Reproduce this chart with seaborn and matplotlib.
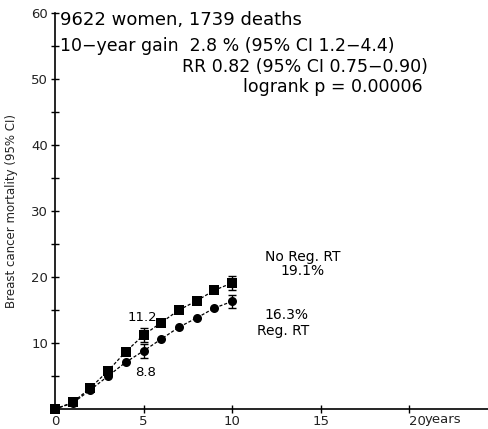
import numpy as np
import pandas as pd
import matplotlib
matplotlib.use("Agg")
import matplotlib.pyplot as plt
import seaborn as sns

years = [0, 1, 2, 3, 4, 5, 6, 7, 8, 9, 10]
no_reg_rt = [0.0, 1.0, 3.2, 5.8, 8.7, 11.2, 13.1, 15.0, 16.4, 18.0, 19.1]
reg_rt = [0.0, 0.9, 2.9, 5.0, 7.1, 8.8, 10.6, 12.4, 13.8, 15.3, 16.3]
ci_years = [5, 10]
no_reg_ci_vals = [11.2, 19.1]
no_reg_ci_err = [1.0, 1.1]
reg_ci_vals = [8.8, 16.3]
reg_ci_err = [1.0, 1.0]
group_names = ["No Reg. RT", "Reg. RT"]
yticks_major = [10, 20, 30, 40, 50, 60]
yticks_minor = [5, 15, 25, 35, 45, 55]
xticks = [0, 5, 10, 15, 20]
xtick_labels = ["0", "5", "10", "15", "20"]

df = pd.DataFrame({
    "year": years * 2,
    "mort": no_reg_rt + reg_rt,
    "group": [group_names[0]] * len(years) + [group_names[1]] * len(years),
})

sns.set_style("white")
plt.rcParams["font.family"] = ["DejaVu Sans"]
plt.rcParams["text.color"] = "black"

W, H = 489, 429
fig = plt.figure(figsize=(W / 100, H / 100), dpi=100)
ax = fig.add_axes([55 / W, 1 - 409 / H, (W - 55) / W, (409 - 13) / H])

sns.lineplot(data=df, x="year", y="mort", style="group",
             markers={group_names[0]: "s", group_names[1]: "o"},
             dashes={group_names[0]: (2.5, 1.5), group_names[1]: (2.5, 1.5)},
             color="black", markersize=6.5, linewidth=0.9,
             markeredgewidth=0, legend=False, ax=ax, clip_on=False, zorder=3)

ax.errorbar(ci_years, no_reg_ci_vals, yerr=no_reg_ci_err, fmt="none",
            ecolor="black", elinewidth=1, capsize=3, capthick=1, zorder=4)
ax.errorbar(ci_years, reg_ci_vals, yerr=reg_ci_err, fmt="none",
            ecolor="black", elinewidth=1, capsize=3, capthick=1, zorder=4)

ax.set_xlim(0, 24.5)
ax.set_ylim(0, 60)
ax.set_yticks(yticks_major)
ax.set_yticks(yticks_minor, minor=True)
ax.set_xticks(xticks)
ax.set_xticklabels(xtick_labels)
ax.tick_params(axis="both", which="both", direction="inout", length=6,
               width=1, color="black", labelsize=9.5, labelcolor="#222222",
               bottom=True, left=True)
ax.tick_params(axis="y", pad=2)
ax.tick_params(axis="x", pad=1)
last = ax.get_xticklabels()[-1]
last.set_horizontalalignment("left")
sns.despine(ax=ax, top=True, right=True)
for s in ["left", "bottom"]:
    ax.spines[s].set_linewidth(1.2)
    ax.spines[s].set_color("black")
ax.set_xlabel("")
ax.set_ylabel("Breast cancer mortality (95% CI)", fontsize=8.5, labelpad=4,
              color="#222222")
ax.yaxis.set_label_coords(-(55 - 18) / (W - 55), (409 - 211) / (409 - 13))

# header texts (figure pixel coords)
def ftext(px, py, s, **kw):
    fig.text(px / W, 1 - py / H, s, **kw)

ftext(60, 25, "9622 women, 1739 deaths", fontsize=13, ha="left", va="baseline")
ftext(60, 51, "10\u2212year gain  2.8 % (95% CI 1.2\u22124.4)", fontsize=12.5,
      ha="left", va="baseline")
ftext(428, 72, "RR 0.82 (95% CI 0.75\u22120.90)", fontsize=12.5, ha="right",
      va="baseline")
ftext(423, 92, "logrank p = 0.00006", fontsize=12.5, ha="right", va="baseline")
ftext(425, 420, "years", fontsize=9.5, ha="left", va="center", color="#222222")

# annotations in data coords
ax.text(13.97, 23.0, "No Reg. RT", fontsize=10, ha="center", va="center")
ax.text(13.97, 20.9, "19.1%", fontsize=10, ha="center", va="center")
ax.text(13.05, 14.3, "16.3%", fontsize=10, ha="center", va="center")
ax.text(12.85, 11.8, "Reg. RT", fontsize=10, ha="center", va="center")
ax.text(4.96, 13.9, "11.2", fontsize=9.5, ha="center", va="center")
ax.text(5.13, 5.6, "8.8", fontsize=9.5, ha="center", va="center")

fig.savefig("out.png", dpi=100)
